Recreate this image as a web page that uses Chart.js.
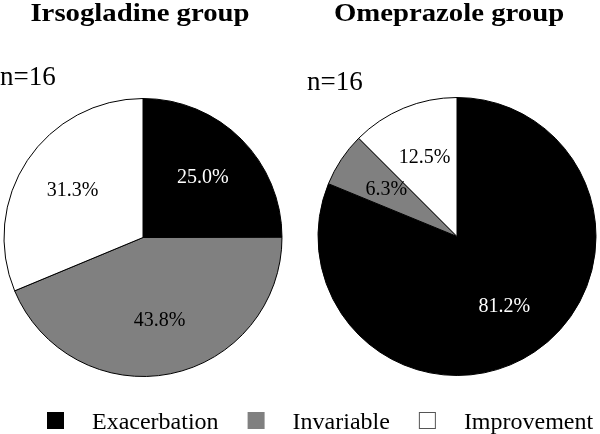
<!DOCTYPE html>
<html>
<head>
<meta charset="utf-8">
<script src="https://cdn.jsdelivr.net/npm/chart.js@4.4.0/dist/chart.umd.min.js"></script>
<style>
  html, body { margin: 0; padding: 0; background: #fff; }
  #wrap { position: relative; width: 600px; height: 434px; overflow: hidden; }
  #wrap canvas { position: absolute; left: 0; top: 0; }
</style>
</head>
<body>
<div id="wrap">
  <canvas id="left" width="600" height="434"></canvas>
  <canvas id="right" width="600" height="434"></canvas>
</div>
<script>
// ---- data ----
const categories = ['Exacerbation', 'Invariable', 'Improvement'];
const irsogladineValues = [25.0, 43.8, 31.3];
const omeprazoleValues = [81.2, 6.3, 12.5];
const groupTitles = ['Irsogladine group', 'Omeprazole group'];
const groupN = ['n=16', 'n=16'];

// ---- styles ----
const sliceColors = ['#000000', '#808080', '#ffffff'];
const labelColors = ['#ffffff', '#000000', '#000000'];
const SERIF = '"Liberation Serif", "Times New Roman", serif';

const textPlugin = {
  id: 'groupText',
  afterDatasetsDraw(chart, args, opts) {
    const ctx = chart.ctx;
    const meta = chart.getDatasetMeta(0);
    const ds = chart.data.datasets[0];
    // slice labels
    ctx.save();
    ctx.font = '20px ' + SERIF;
    ctx.textAlign = 'center';
    ctx.textBaseline = 'middle';
    meta.data.forEach((arc, i) => {
      const p = arc.getProps(['x', 'y', 'startAngle', 'endAngle', 'outerRadius'], true);
      const mid = (p.startAngle + p.endAngle) / 2;
      const r = p.outerRadius * 0.61;
      ctx.fillStyle = labelColors[i];
      ctx.fillText(ds.data[i].toFixed(1) + '%', p.x + Math.cos(mid) * r, p.y + Math.sin(mid) * r);
    });
    ctx.restore();

    // title (bold, slightly wide)
    ctx.save();
    ctx.fillStyle = '#000';
    ctx.font = 'bold 25px ' + SERIF;
    ctx.textAlign = 'center';
    ctx.textBaseline = 'alphabetic';
    ctx.translate(opts.titleX, opts.titleY);
    ctx.scale(1.15, 1);
    ctx.fillText(opts.title, 0, 0);
    ctx.restore();

    // n label
    ctx.save();
    ctx.fillStyle = '#000';
    ctx.font = '27px ' + SERIF;
    ctx.textAlign = 'left';
    ctx.textBaseline = 'alphabetic';
    ctx.fillText(opts.n, opts.nX, opts.nY);
    ctx.restore();

    // legend
    if (opts.legend) {
      ctx.save();
      ctx.font = '24px ' + SERIF;
      ctx.textBaseline = 'alphabetic';
      let x = 47;
      const boxTop = 412, box = 17, baseline = 429;
      categories.forEach((c, i) => {
        ctx.fillStyle = sliceColors[i];
        ctx.fillRect(x, boxTop, box, box);
        if (i === 2) {
          ctx.strokeStyle = '#555';
          ctx.lineWidth = 1;
          ctx.strokeRect(x + 0.5, boxTop + 0.5, box - 1, box - 1);
        }
        x += box + 28;
        ctx.fillStyle = '#000';
        ctx.textAlign = 'left';
        ctx.fillText(c, x, baseline);
        x += ctx.measureText(c).width + 29;
      });
      ctx.restore();
    }
  }
};

function makePie(id, values, padding, textOpts) {
  return new Chart(document.getElementById(id), {
    type: 'pie',
    data: {
      labels: categories,
      datasets: [{
        data: values,
        backgroundColor: sliceColors,
        borderColor: '#000000',
        borderWidth: 1
      }]
    },
    options: {
      responsive: false,
      animation: false,
      events: [],
      radius: 139,
      layout: { padding: padding },
      plugins: {
        legend: { display: false },
        tooltip: { enabled: false },
        title: { display: false },
        groupText: textOpts
      }
    },
    plugins: [textPlugin]
  });
}

makePie('left', irsogladineValues,
  { left: 3, right: 317, top: 97.5, bottom: 56.5 },
  { title: groupTitles[0], titleX: 140, titleY: 21, n: groupN[0], nX: 0, nY: 85, legend: true });

makePie('right', omeprazoleValues,
  { left: 317, right: 3, top: 96.5, bottom: 57.5 },
  { title: groupTitles[1], titleX: 449, titleY: 21, n: groupN[1], nX: 307, nY: 90, legend: false });
</script>
</body>
</html>
